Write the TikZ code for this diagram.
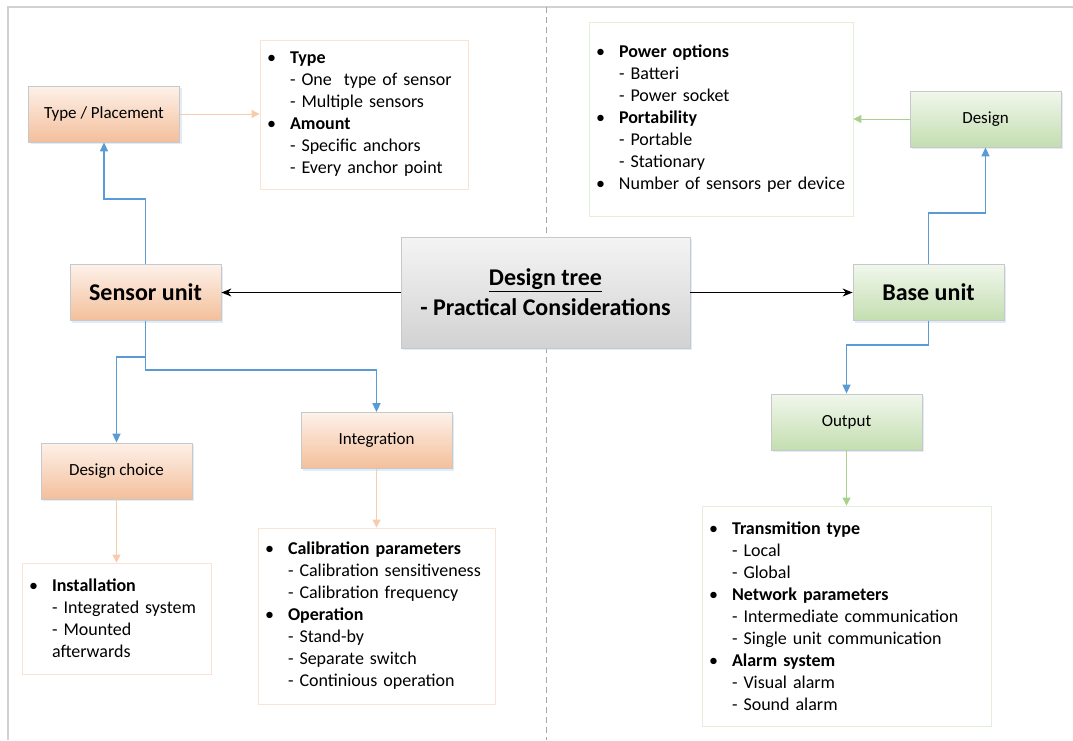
\documentclass[tikz,border=0pt]{standalone}
\usepackage{fontspec}
\setmainfont{Carlito}
\usetikzlibrary{arrows.meta,shadows}

\definecolor{orTop}{HTML}{FDF1E9}
\definecolor{orBot}{HTML}{F4BF9B}
\definecolor{grTop}{HTML}{F1F7EC}
\definecolor{grBot}{HTML}{C3DEB0}
\definecolor{gyTop}{HTML}{F4F4F4}
\definecolor{gyBot}{HTML}{D2D2D2}
\definecolor{boxline}{HTML}{C6C9CC}
\definecolor{shadowblue}{HTML}{B8CCE4}
\definecolor{linkblue}{HTML}{5B9BD5}
\definecolor{linkorange}{HTML}{F8CBAD}
\definecolor{linkgreen}{HTML}{A9D18E}
\definecolor{listorange}{HTML}{FBE3D4}
\definecolor{listgreen}{HTML}{E2EFDA}
\definecolor{framegray}{HTML}{D0D3D6}
\definecolor{dividergray}{HTML}{A6A6A6}

% list helpers: bold bullet heading, plain bullet line, indented sub item
\newcommand\bmark{\makebox[20pt][l]{\hspace*{-3pt}\textbullet}}
\newcommand\bitem[1]{\mbox{\bmark\textbf{#1}}}
\newcommand\pitem[1]{\mbox{\bmark#1}}
\newcommand\sitem[1]{\mbox{\hspace*{20pt}- #1}}

\tikzset{
  unitbox/.style={draw=boxline, line width=0.8pt, inner sep=0pt,
    minimum width=151pt, minimum height=56pt, align=center,
    drop shadow={shadow xshift=2pt, shadow yshift=-2pt, fill=shadowblue, opacity=0.4}},
  orangebox/.style={unitbox, top color=orTop, bottom color=orBot},
  greenbox/.style={unitbox, top color=grTop, bottom color=grBot},
  smalltext/.style={font=\fontsize{17}{20}\selectfont},
  bigtext/.style={font=\fontsize{24}{28}\selectfont\bfseries},
  listbox/.style={draw=#1, line width=0.8pt, fill=white, inner xsep=10pt, inner ysep=0pt,
    align=left, font=\fontsize{18}{22}\selectfont},
  mainlink/.style={line width=1.2pt, -{Stealth[length=10pt,width=8pt]}},
  bluelink/.style={draw=linkblue, line width=1.5pt, -{Triangle[length=9pt,width=8pt]}},
  orangelink/.style={draw=linkorange, line width=0.9pt, -{Triangle[length=8pt,width=8pt]}},
  greenlink/.style={draw=linkgreen, line width=0.9pt, -{Triangle[length=8pt,width=8pt]}},
}

\begin{document}
\begin{tikzpicture}[x=1pt,y=-1pt]
\useasboundingbox (0,0) rectangle (1073,740);

% page frame and the dashed divider between the two halves
\draw[framegray, line width=1.2pt] (8,740) -- (8,7) -- (1073,7);
\draw[dividergray, line width=0.9pt, dash pattern=on 6pt off 4pt] (546,7) -- (546,740);

% central node
\node[unitbox, top color=gyTop, bottom color=gyBot, minimum width=289pt, minimum height=111pt,
      font=\fontsize{24}{30}\selectfont\bfseries] (ctr) at (545.5,292.5)
  {\underline{Design tree}\\- Practical Considerations};

% sensor unit branch
\node[orangebox, bigtext] (su) at (145.5,292.5) {Sensor unit};
\node[orangebox, smalltext] (tp) at (104,114) {Type / Placement};
\node[orangebox, smalltext] (dc) at (116.5,471) {Design choice};
\node[orangebox, smalltext] (integ) at (376.5,440.5) {Integration};

\node[listbox=listorange, text width=188pt, minimum height=149pt] (tplist) at (364,114.5)
  {\bitem{Type}\\
   \sitem{One~ type of sensor}\\
   \sitem{Multiple sensors}\\
   \bitem{Amount}\\
   \sitem{Specific anchors}\\
   \sitem{Every anchor point}};

\node[listbox=listorange, text width=169pt, minimum height=111pt] (instlist) at (116.5,618.5)
  {\bitem{Installation}\\
   \sitem{Integrated system}\\
   \sitem{Mounted}\\
   \hspace*{20pt}afterwards};

\node[listbox=listorange, text width=217pt, minimum height=176pt] (callist) at (376.5,616)
  {\bitem{Calibration parameters}\\
   \sitem{Calibration sensitiveness}\\
   \sitem{Calibration frequency}\\
   \bitem{Operation}\\
   \sitem{Stand-by}\\
   \sitem{Separate switch}\\
   \sitem{Continious operation}};

% base unit branch
\node[greenbox, bigtext] (bu) at (928.5,292.5) {Base unit};
\node[greenbox, smalltext] (des) at (985.5,119) {Design};
\node[greenbox, smalltext] (out) at (846.5,422) {Output};

\node[listbox=listgreen, text width=244pt, minimum height=194pt] (powlist) at (721,119)
  {\bitem{Power options}\\
   \sitem{Batteri}\\
   \sitem{Power socket}\\
   \bitem{Portability}\\
   \sitem{Portable}\\
   \sitem{Stationary}\\
   \pitem{Number of sensors per device}};

\node[listbox=listgreen, text width=269pt, minimum height=220pt] (outlist) at (846.5,616)
  {\bitem{Transmition type}\\
   \sitem{Local}\\
   \sitem{Global}\\
   \bitem{Network parameters}\\
   \sitem{Intermediate communication}\\
   \sitem{Single unit communication}\\
   \bitem{Alarm system}\\
   \sitem{Visual alarm}\\
   \sitem{Sound alarm}};

% main links
\draw[mainlink] (ctr.west) -- (su.east);
\draw[mainlink] (ctr.east) -- (bu.west);

% elbow links from the two units
\coordinate (suup) at (su.north |- 0,199);
\coordinate (sulft) at (su.south |- 0,357);
\coordinate (surgt) at (su.south |- 0,370);
\coordinate (buup) at (bu.north |- 0,213);
\coordinate (budn) at (bu.south |- 0,345);

\draw[bluelink] (su.north) -- (suup) -| (tp.south);
\draw[bluelink] (su.south) -- (surgt) -| (integ.north);
\draw[bluelink] (sulft) -| (dc.north);
\draw[bluelink] (bu.north) -- (buup) -| (des.south);
\draw[bluelink] (bu.south) -- (budn) -| (out.north);

% links into the detail lists
\draw[orangelink] (tp.east) -- (tplist.west |- tp.east);
\draw[orangelink] (dc.south) -- (instlist.north);
\draw[orangelink] (integ.south) -- (callist.north);
\draw[greenlink] (des.west) -- (powlist.east |- des.west);
\draw[greenlink] (out.south) -- (outlist.north);
\end{tikzpicture}
\end{document}
